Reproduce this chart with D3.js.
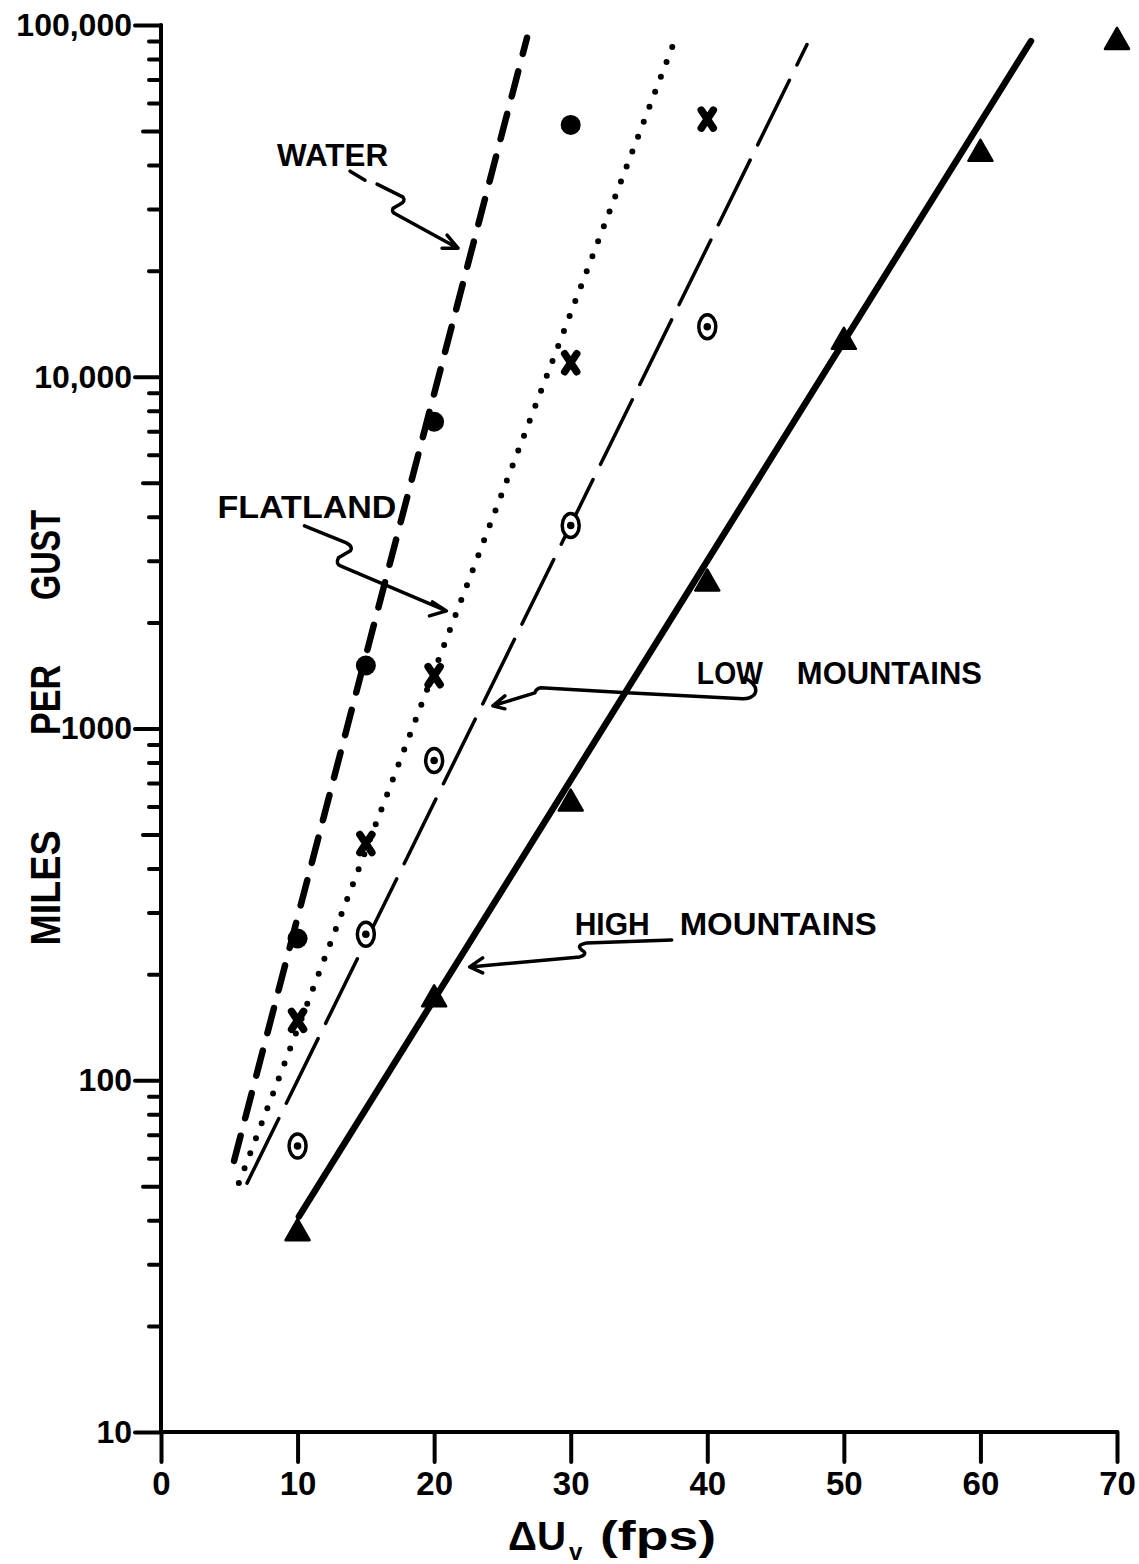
<!DOCTYPE html>
<html><head><meta charset="utf-8">
<script src="https://cdn.jsdelivr.net/npm/d3@7"></script>
<style>
body{margin:0;background:#fff;}
svg{display:block;background:#fff;}
text{font-family:"Liberation Sans",Arial,sans-serif;font-weight:bold;fill:#000;}
</style></head><body>
<svg id="chart" width="1139" height="1564"></svg>
<script>
// ---------- data ----------
const xTicks = [0, 10, 20, 30, 40, 50, 60, 70];
const yMajor = [10, 100, 1000, 10000, 100000];
const yMajorLabels = ["10", "100", "1000", "10,000", "100,000"];

const waterX = [10, 15, 20, 30];
const waterY = [253, 1510, 7450, 52000];
const flatX = [10, 15, 20, 30, 40];
const flatY = [148, 471, 1413, 10960, 54000];
const lowX = [10, 15, 20, 30, 40];
const lowY = [65, 260, 811, 3775, 13870];
const highX = [10, 20, 30, 40, 50, 60, 70];
const highY = [37, 171, 616, 2600, 12650, 43300, 90100];

// fitted curves (straight on the semi-log grid): end points
const waterFitX = [5.35, 26.8];
const waterFitY = [59, 92000];
const flatFitX = [5.7, 37.6];
const flatFitY = [51, 90000];
const lowFitX = [6.3, 47.3];
const lowFitY = [51, 88000];
const highFitX = [10.1, 63.7];
const highFitY = [41, 90000];

const labelNames = ["WATER", "FLATLAND", "LOW MOUNTAINS", "HIGH MOUNTAINS"];
// arrow tip locations in data units
const tipX = [21.75, 20.9, 24.3, 22.6];
const tipY = [23200, 2160, 1160, 210];

// ---------- layout ----------
const svg = d3.select("#chart");
const x = d3.scaleLinear().domain([0, 70]).range([161, 1117]);
const y = d3.scaleLog().domain([10, 100000]).range([1432, 25]);
const INK = "#000";
const FONT = '"Liberation Sans",Arial,sans-serif';

// ---------- axes ----------
const minor = [];
[10, 100, 1000, 10000].forEach(d => { for (let k = 2; k <= 9; k++) if (k !== 5) minor.push(d * k); });
const fives = [50, 500, 5000, 50000];

const yAxisG = svg.append("g").attr("transform", `translate(${x(0)},0)`);
yAxisG.append("g").call(d3.axisLeft(y).tickValues(minor).tickSize(12).tickFormat(""))
  .call(g => g.select(".domain").remove());
yAxisG.append("g").call(d3.axisLeft(y).tickValues(fives).tickSize(18).tickFormat(""))
  .call(g => g.select(".domain").remove());
yAxisG.append("g").call(d3.axisLeft(y).tickValues(yMajor).tickSize(26).tickPadding(3)
    .tickFormat((d, i) => yMajorLabels[i]))
  .call(g => g.select(".domain").remove())
  .call(g => g.selectAll("text").style("font-size", "32px").style("font-family", FONT).style("font-weight", "bold"));
yAxisG.append("line").attr("x1", 0).attr("x2", 0).attr("y1", y(100000)).attr("y2", y(10));
yAxisG.selectAll("line").attr("stroke", INK).attr("stroke-width", 4).attr("stroke-linecap", "round");

const xAxisG = svg.append("g").attr("transform", `translate(0,${y(10)})`);
xAxisG.call(d3.axisBottom(x).tickValues(xTicks).tickSize(30).tickPadding(10))
  .call(g => g.select(".domain").remove())
  .call(g => g.selectAll("text").style("font-size", "33px").style("font-family", FONT).style("font-weight", "bold"));
xAxisG.append("line").attr("x1", x(0)).attr("x2", x(70)).attr("y1", 0).attr("y2", 0);
xAxisG.selectAll("line").attr("stroke", INK).attr("stroke-width", 4).attr("stroke-linecap", "round");

// ---------- fitted lines ----------
const line = d3.line().x(d => x(d[0])).y(d => y(d[1]));
const zip = (a, b) => a.map((v, i) => [v, b[i]]);
const plot = svg.append("g");
plot.append("path").datum(zip(waterFitX, waterFitY)).attr("d", line)
  .attr("fill", "none").attr("stroke", INK).attr("stroke-width", 6.5)
  .attr("stroke-dasharray", "26 18").attr("stroke-linecap", "round");
plot.append("path").datum(zip(flatFitX, flatFitY)).attr("d", line)
  .attr("fill", "none").attr("stroke", INK).attr("stroke-width", 6)
  .attr("stroke-dasharray", "0 16").attr("stroke-linecap", "round");
plot.append("path").datum(zip(lowFitX, lowFitY)).attr("d", line)
  .attr("fill", "none").attr("stroke", INK).attr("stroke-width", 3.5)
  .attr("stroke-dasharray", "72 17").attr("stroke-linecap", "round");
plot.append("path").datum(zip(highFitX, highFitY)).attr("d", line)
  .attr("fill", "none").attr("stroke", INK).attr("stroke-width", 6.5)
  .attr("stroke-linecap", "round");

// ---------- markers ----------
plot.selectAll(".water").data(zip(waterX, waterY)).join("circle")
  .attr("cx", d => x(d[0])).attr("cy", d => y(d[1])).attr("r", 10).attr("fill", INK);

plot.selectAll(".flat").data(zip(flatX, flatY)).join("path")
  .attr("transform", d => `translate(${x(d[0])},${y(d[1])})`)
  .attr("d", "M-6,-9L6,9M6,-9L-6,9")
  .attr("stroke", INK).attr("stroke-width", 7.5).attr("stroke-linecap", "round").attr("fill", "none");

const lowG = plot.selectAll(".low").data(zip(lowX, lowY)).join("g")
  .attr("transform", d => `translate(${x(d[0])},${y(d[1])})`);
lowG.append("ellipse").attr("rx", 8.5).attr("ry", 12).attr("fill", "#fff")
  .attr("stroke", INK).attr("stroke-width", 3.5);
lowG.append("circle").attr("r", 3.8).attr("fill", INK);

plot.selectAll(".high").data(zip(highX, highY)).join("path")
  .attr("transform", d => `translate(${x(d[0])},${y(d[1])})`)
  .attr("d", "M0,-13L12,8L-12,8Z").attr("fill", INK)
  .attr("stroke", INK).attr("stroke-width", 2.5).attr("stroke-linejoin", "round");

// ---------- annotations ----------
const ann = svg.append("g");
const annStyle = sel => sel.attr("fill", "none").attr("stroke", INK).attr("stroke-width", 3.5)
  .attr("stroke-linecap", "round").attr("stroke-linejoin", "round");
function annot(i, pathD, labels) {
  const g = ann.append("g").attr("transform", `translate(${x(tipX[i])},${y(tipY[i])})`);
  g.append("path").attr("d", pathD).call(annStyle);
  labels.forEach(l => g.append("text").attr("x", l[0]).attr("y", l[1]).attr("textLength", l[3])
    .attr("lengthAdjust", "spacingAndGlyphs").style("font-size", "32px").text(l[2]));
}
const w = labelNames.map(s => s.split(" "));
annot(0, "M-108,-77L-93,-68M-81,-64L-55,-51Q-52,-47 -58,-44L-65,-40Q-67,-36 -62,-34L0,0M-11,-13L0,0L-16,0",
  [[-181, -82, w[0][0], 111]]);
annot(1, "M-142,-85L-100,-68Q-93,-64 -96,-60L-108,-53Q-111,-47 -106,-45L0,0M-14,-9L0,0L-17,5",
  [[-229, -93, w[1][0], 179]]);
annot(2, "M252,-28Q266,-20 262,-12Q258,-7 250,-7L134,-13L48,-18Q43,-17 42,-13L0,0M12,-10L0,0L12,3",
  [[204, -22, w[2][0], 66], [304, -22, w[2][1], 185]]);
annot(3, "M202,-27L117,-24Q106,-22 112,-17Q119,-13 110,-10L0,0M13,-9L0,0L13,6",
  [[105, -32, w[3][0], 75], [210, -32, w[3][1], 197]]);

// ---------- axis titles ----------
const yTitleWords = ["MILES", "PER", "GUST"];
const yTitleCenters = [888, 700, 555];
const yTitleLens = [115, 70, 90];
yTitleWords.forEach((t, i) => {
  svg.append("text").attr("transform", `translate(60,${yTitleCenters[i]}) rotate(-90)`)
    .attr("text-anchor", "middle").attr("textLength", yTitleLens[i]).attr("lengthAdjust", "spacingAndGlyphs")
    .style("font-size", "42px").text(t);
});
svg.append("text").attr("x", 508).attr("y", 1550).attr("textLength", 58).attr("lengthAdjust", "spacingAndGlyphs")
  .style("font-size", "40px").text("\u0394U");
svg.append("text").attr("x", 569).attr("y", 1560).style("font-size", "24px").text("v");
svg.append("text").attr("x", 600).attr("y", 1550).attr("textLength", 116).attr("lengthAdjust", "spacingAndGlyphs")
  .style("font-size", "40px").text("(fps)");
</script>
</body></html>
